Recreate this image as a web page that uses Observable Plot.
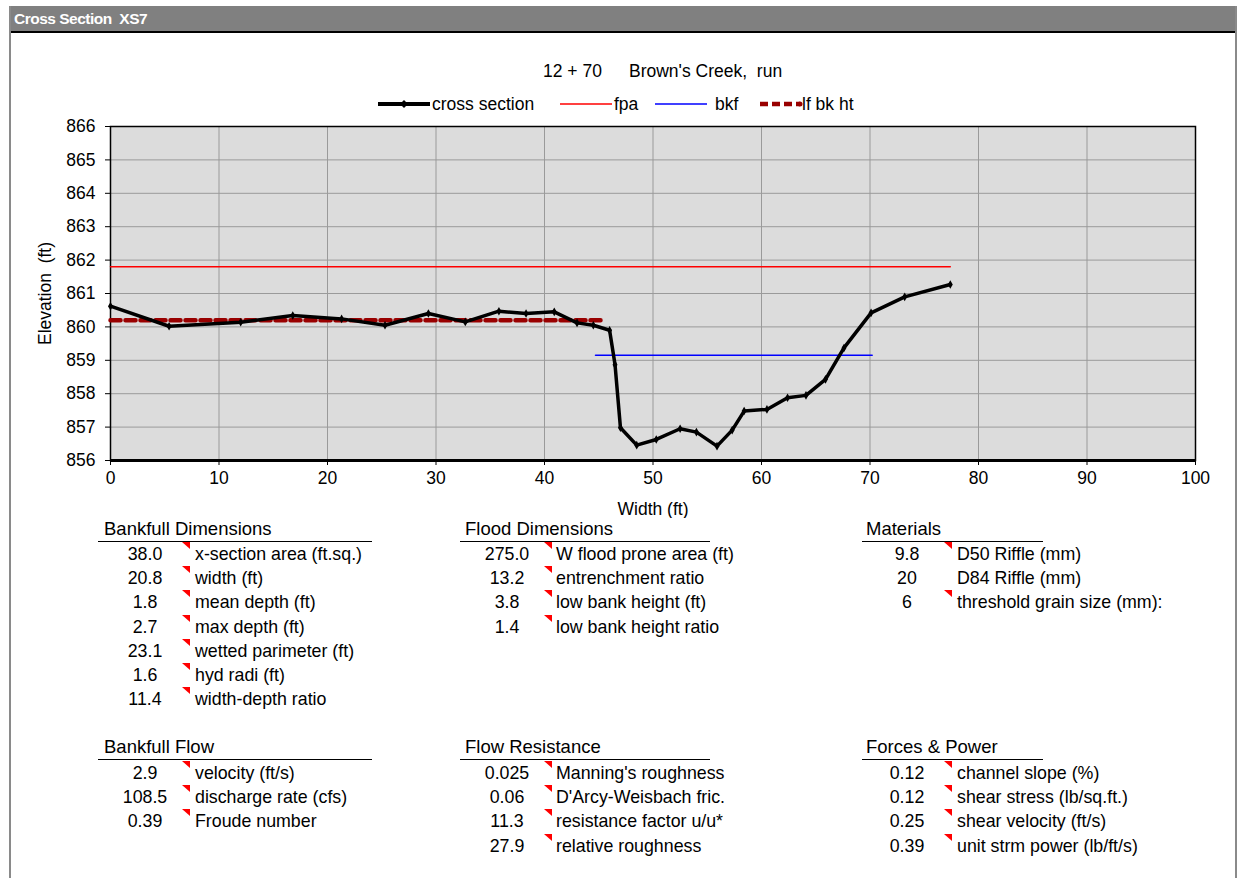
<!DOCTYPE html>
<html>
<head>
<meta charset="utf-8">
<script src="https://cdn.jsdelivr.net/npm/d3@7"></script>
<script src="https://cdn.jsdelivr.net/npm/@observablehq/plot@0.6"></script>
<style>
  html, body { margin: 0; padding: 0; background: #fff; }
  body { width: 1238px; height: 878px; position: relative; overflow: hidden;
         font-family: "Liberation Sans", Arial, sans-serif; color: #000; }
  .abs { position: absolute; white-space: pre; }
  .tri { position: absolute; width: 0; height: 0; border-top: 7px solid #ff0000; border-left: 8px solid transparent; }
</style>
</head>
<body>
<script>
// ---------- chart data ----------
const chartTitle = "Cross Section  XS7";
const subtitleA = "12 + 70";
const subtitleB = "Brown's Creek,  run";
const xLabel = "Width (ft)";
const yLabel = "Elevation  (ft)";
const xTicks = [0, 10, 20, 30, 40, 50, 60, 70, 80, 90, 100];
const yTicks = [856, 857, 858, 859, 860, 861, 862, 863, 864, 865, 866];

const stationX = [0, 5.4, 12.0, 16.8, 21.3, 25.3, 29.3, 32.7, 35.8, 38.3, 40.9, 43.0, 44.5, 46.0, 46.5, 47.0, 48.5, 50.3, 52.5, 54.0, 55.9, 57.3, 58.4, 60.5, 62.4, 64.1, 65.9, 67.6, 70.1, 73.2, 77.4];
const elevation = [860.62, 860.02, 860.14, 860.34, 860.24, 860.05, 860.4, 860.15, 860.47, 860.4, 860.45, 860.12, 860.05, 859.9, 858.87, 856.98, 856.46, 856.63, 856.95, 856.85, 856.43, 856.91, 857.48, 857.53, 857.88, 857.95, 858.43, 859.37, 860.42, 860.9, 861.27];

const fpaX = [0, 77.4];
const fpaElev = 861.8;
const bkfX = [44.7, 70.2];
const bkfElev = 859.15;
const lfX = [0, 45.6];
const lfElev = 860.2;

const legendNames = ["cross section", "fpa", "bkf", "lf bk ht"];

// ---------- table data ----------
const bankfullDimTitle = "Bankfull Dimensions";
const bankfullDimValues = ["38.0", "20.8", "1.8", "2.7", "23.1", "1.6", "11.4"];
const bankfullDimLabels = ["x-section area (ft.sq.)", "width (ft)", "mean depth (ft)", "max depth (ft)", "wetted parimeter (ft)", "hyd radi (ft)", "width-depth ratio"];
const bankfullDimNotes = [1, 1, 1, 1, 1, 1, 1];

const floodDimTitle = "Flood Dimensions";
const floodDimValues = ["275.0", "13.2", "3.8", "1.4"];
const floodDimLabels = ["W flood prone area (ft)", "entrenchment ratio", "low bank height (ft)", "low bank height ratio"];
const floodDimNotes = [1, 1, 1, 1];

const materialsTitle = "Materials";
const materialsValues = ["9.8", "20", "6"];
const materialsLabels = ["D50 Riffle (mm)", "D84 Riffle (mm)", "threshold grain size (mm):"];
const materialsNotes = [1, 0, 1];

const bankfullFlowTitle = "Bankfull Flow";
const bankfullFlowValues = ["2.9", "108.5", "0.39"];
const bankfullFlowLabels = ["velocity (ft/s)", "discharge rate (cfs)", "Froude number"];
const bankfullFlowNotes = [1, 1, 1];

const flowResTitle = "Flow Resistance";
const flowResValues = ["0.025", "0.06", "11.3", "27.9"];
const flowResLabels = ["Manning's roughness", "D'Arcy-Weisbach fric.", "resistance factor u/u*", "relative roughness"];
const flowResNotes = [1, 1, 1, 1];

const forcesTitle = "Forces & Power";
const forcesValues = ["0.12", "0.12", "0.25", "0.39"];
const forcesLabels = ["channel slope (%)", "shear stress (lb/sq.ft.)", "shear velocity (ft/s)", "unit strm power (lb/ft/s)"];
const forcesNotes = [1, 1, 1, 1];

// ---------- helpers ----------
function el(tag, style, text) {
  const e = document.createElement(tag);
  Object.assign(e.style, style);
  if (text != null) e.textContent = text;
  document.body.appendChild(e);
  return e;
}

// window frame
el("div", {position: "absolute", left: "9px", top: "6px", width: "1228px", height: "25px", background: "#808080"});
el("div", {position: "absolute", left: "9px", top: "31px", width: "1228px", height: "2px", background: "#000"});
el("div", {position: "absolute", left: "9px", top: "6px", width: "2px", height: "872px", background: "#8a8a8a"});
el("div", {position: "absolute", left: "1235px", top: "6px", width: "2px", height: "872px", background: "#8a8a8a"});
const tt = el("div", {position: "absolute", left: "14px", top: "10px", color: "#fff", fontWeight: "bold", fontSize: "15.5px", letterSpacing: "-0.5px", lineHeight: "18px"}, chartTitle);
tt.className = "abs";

// subtitle
el("div", {position: "absolute", left: "543px", top: "60px", fontSize: "17.5px", lineHeight: "22px"}, subtitleA).className = "abs";
el("div", {position: "absolute", left: "629px", top: "60px", fontSize: "17.5px", lineHeight: "22px"}, subtitleB).className = "abs";

// legend
const legendSwatches = [
  {x1: 378, x2: 430, color: "#000", w: 4, dash: null, marker: "diamond", tx: 432},
  {x1: 560, x2: 612, color: "#ff0000", w: 1.5, dash: null, marker: null, tx: 614},
  {x1: 655, x2: 707, color: "#0000ff", w: 1.5, dash: null, marker: null, tx: 715},
  {x1: 760, x2: 800, color: "#990000", w: 4.5, dash: "8,4", marker: "dot", tx: 802}
];
const lsvg = d3.select(document.body).append("svg")
  .style("position", "absolute").style("left", "0px").style("top", "92px")
  .attr("width", 1238).attr("height", 24);
legendSwatches.forEach((s, i) => {
  lsvg.append("line").attr("x1", s.x1).attr("x2", s.x2).attr("y1", 12).attr("y2", 12)
    .attr("stroke", s.color).attr("stroke-width", s.w).attr("stroke-dasharray", s.dash);
  if (s.marker === "diamond") {
    const cx = (s.x1 + s.x2) / 2;
    lsvg.append("path").attr("d", `M${cx},8L${cx + 4},12L${cx},16L${cx - 4},12Z`).attr("fill", "#000");
  }
  if (s.marker === "dot") {
    lsvg.append("circle").attr("cx", s.x2).attr("cy", 12).attr("r", 2.5).attr("fill", s.color);
  }
  lsvg.append("text").attr("x", s.tx).attr("y", 12).attr("dy", "0.35em")
    .attr("font-family", "Liberation Sans, Arial, sans-serif").attr("font-size", 17.5)
    .text(legendNames[i]);
});

// ---------- plot ----------
const profile = stationX.map((x, i) => ({x, y: elevation[i]}));
const fpa = fpaX.map(x => ({x, y: fpaElev}));
const bkf = bkfX.map(x => ({x, y: bkfElev}));
const lf = lfX.map(x => ({x, y: lfElev}));

const chart = Plot.plot({
  width: 1238,
  height: 404,
  marginLeft: 110,
  marginRight: 43,
  marginTop: 12,
  marginBottom: 58,
  style: {fontFamily: "Liberation Sans, Arial, sans-serif", fontSize: "17.5px", color: "#000", background: "transparent"},
  x: {domain: [0, 100]},
  y: {domain: [856, 866]},
  marks: [
    Plot.frame({fill: "#dcdcdc", stroke: null}),
    Plot.gridX(xTicks, {stroke: "#9a9a9a", strokeOpacity: 1, strokeWidth: 1}),
    Plot.gridY(yTicks, {stroke: "#9a9a9a", strokeOpacity: 1, strokeWidth: 1}),
    Plot.frame({stroke: "#000", strokeWidth: 1.5}),
    Plot.axisX(xTicks, {tickSize: 5, tickPadding: 6, label: xLabel, labelAnchor: "center", labelOffset: 54, labelArrow: false, stroke: "#000"}),
    Plot.axisY(yTicks, {tickSize: 5, tickPadding: 10, label: yLabel, labelAnchor: "center", labelOffset: 72, labelArrow: false, stroke: "#000"}),
    Plot.ruleY([856], {stroke: "#000", strokeWidth: 3}),
    Plot.line(fpa, {x: "x", y: "y", stroke: "#ff0000", strokeWidth: 1.5}),
    Plot.line(bkf, {x: "x", y: "y", stroke: "#0000ff", strokeWidth: 1.5}),
    Plot.line(lf, {x: "x", y: "y", stroke: "#990000", strokeWidth: 4.5, strokeDasharray: "10,5"}),
    Plot.line(profile, {x: "x", y: "y", stroke: "#000", strokeWidth: 3.5, strokeLinejoin: "round"}),
    Plot.dot(profile, {x: "x", y: "y", symbol: "diamond", r: 2.6, fill: "#000", stroke: null})
  ]
});
const wrap = el("div", {position: "absolute", left: "0px", top: "114px", width: "1238px", height: "404px"});
wrap.appendChild(chart);

// ---------- tables ----------
const colHeaderX = [104, 465, 866];
const colValCenter = [145, 507, 907];
const colTriRight = [190, 552, 952];
const colLabelX = [195, 556, 957];
const colLine = [[98, 372], [460, 710], [862, 1043]];
const blockHeaderY = [529, 747];
const blockLineY = [541, 759];
const blockFirstY = [554, 773];
const rowStep = 24.2;

function block(col, row, title, values, labels, notes) {
  el("div", {position: "absolute", left: colHeaderX[col] + "px", top: (blockHeaderY[row] - 11) + "px", fontSize: "18.5px", lineHeight: "22px", whiteSpace: "pre"}, title);
  el("div", {position: "absolute", left: colLine[col][0] + "px", top: blockLineY[row] + "px", width: (colLine[col][1] - colLine[col][0]) + "px", height: "1.3px", background: "#000"});
  values.forEach((v, i) => {
    const cy = blockFirstY[row] + i * rowStep;
    el("div", {position: "absolute", left: (colValCenter[col] - 50) + "px", width: "100px", textAlign: "center", top: (cy - 11) + "px", fontSize: "17.8px", lineHeight: "22px", whiteSpace: "pre"}, v);
    el("div", {position: "absolute", left: colLabelX[col] + "px", top: (cy - 11) + "px", fontSize: "17.8px", lineHeight: "22px", whiteSpace: "pre"}, labels[i]);
    if (notes[i]) {
      const t = el("div", {left: (colTriRight[col] - 8) + "px", top: (cy - 12) + "px"});
      t.className = "tri";
    }
  });
}
block(0, 0, bankfullDimTitle, bankfullDimValues, bankfullDimLabels, bankfullDimNotes);
block(1, 0, floodDimTitle, floodDimValues, floodDimLabels, floodDimNotes);
block(2, 0, materialsTitle, materialsValues, materialsLabels, materialsNotes);
block(0, 1, bankfullFlowTitle, bankfullFlowValues, bankfullFlowLabels, bankfullFlowNotes);
block(1, 1, flowResTitle, flowResValues, flowResLabels, flowResNotes);
block(2, 1, forcesTitle, forcesValues, forcesLabels, forcesNotes);
</script>
</body>
</html>
